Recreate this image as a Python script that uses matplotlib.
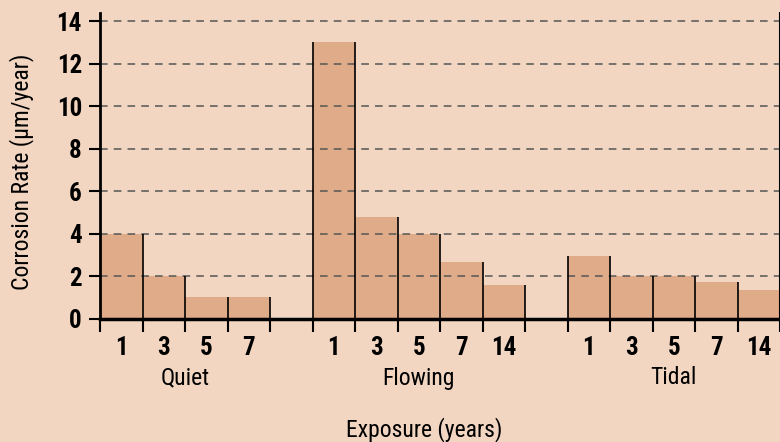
import numpy as np
import matplotlib.pyplot as plt

plt.rcParams['font.family'] = ['Roboto Condensed', 'DejaVu Sans']

# data
groups = ['Quiet', 'Flowing', 'Tidal']
quiet_years = ['1', '3', '5', '7']
quiet_rate = [4.0, 2.0, 1.05, 1.05]
flowing_years = ['1', '3', '5', '7', '14']
flowing_rate = [13.0, 4.8, 4.0, 2.7, 1.6]
tidal_years = ['1', '3', '5', '7', '14']
tidal_rate = [2.95, 2.0, 2.0, 1.75, 1.35]

bg = '#F2D6C1'
bar_col = '#DFAB88'

fig = plt.figure(figsize=(7.8, 4.42), dpi=100, facecolor=bg)
ax = fig.add_axes([100/780, 123/442, 680/780, 306/442])
ax.set_facecolor(bg)

# lay the bars out in slots with one empty slot between groups
series = [(quiet_years, quiet_rate), (flowing_years, flowing_rate), (tidal_years, tidal_rate)]
pos = 0
lefts, heights, labels, group_mid = [], [], [], []
for yrs, vals in series:
    start = pos
    for y, v in zip(yrs, vals):
        lefts.append(pos)
        heights.append(v)
        labels.append(y)
        pos += 1
    group_mid.append((start + pos) / 2)
    pos += 1
pos -= 1
lefts = np.array(lefts)
heights = np.array(heights)

ax.bar(lefts, heights, width=1, align='edge', color=bar_col, edgecolor='none', zorder=1)

# dashed grid sits on top of the bars
for yv in range(2, 15, 2):
    ax.axhline(yv, color='#555555', lw=1.1, ls=(0, (5, 4)), zorder=2)

# black vertical edges of the bars
edge_x = {}
for l, h in zip(lefts, heights):
    edge_x[l] = max(edge_x.get(l, 0), h)
    edge_x[l + 1] = max(edge_x.get(l + 1, 0), h)
ax.vlines(list(edge_x.keys()), 0, list(edge_x.values()), color='black', lw=1.2, zorder=3)

ax.set_xlim(0, pos)
ax.set_ylim(0, 14.38)

ax.set_xticks(np.arange(0, pos + 1))
ax.set_xticklabels([])
ax.tick_params(axis='x', which='major', direction='out', length=9, width=1.5, color='black')
ax.set_xticks(lefts + 0.5, minor=True)
ax.set_xticklabels(labels, minor=True, fontsize=18, fontweight='bold')
ax.tick_params(axis='x', which='minor', length=0, pad=12)

ax.set_yticks(np.arange(0, 15, 2))
ax.set_yticklabels([str(v) for v in range(0, 15, 2)], fontsize=18, fontweight='bold')
ax.tick_params(axis='y', direction='out', length=8, width=1.5, pad=5)

ax.spines['top'].set_visible(False)
ax.spines['left'].set_linewidth(2)
ax.spines['bottom'].set_linewidth(2.5)
ax.spines['right'].set_linewidth(1.5)

for g, m in zip(groups, group_mid):
    ax.text(m, -(378 - 319) / 306, g, transform=ax.get_xaxis_transform(),
            ha='center', va='center', fontsize=17)

fig.text(424/780, 1 - 430/442, 'Exposure (years)', ha='center', va='center', fontsize=17)
fig.text(22/780, 1 - 172/442, 'Corrosion Rate (µm/year)', ha='center', va='center',
         rotation=90, fontsize=17)

fig.savefig('out.png', dpi=100, facecolor=bg)
